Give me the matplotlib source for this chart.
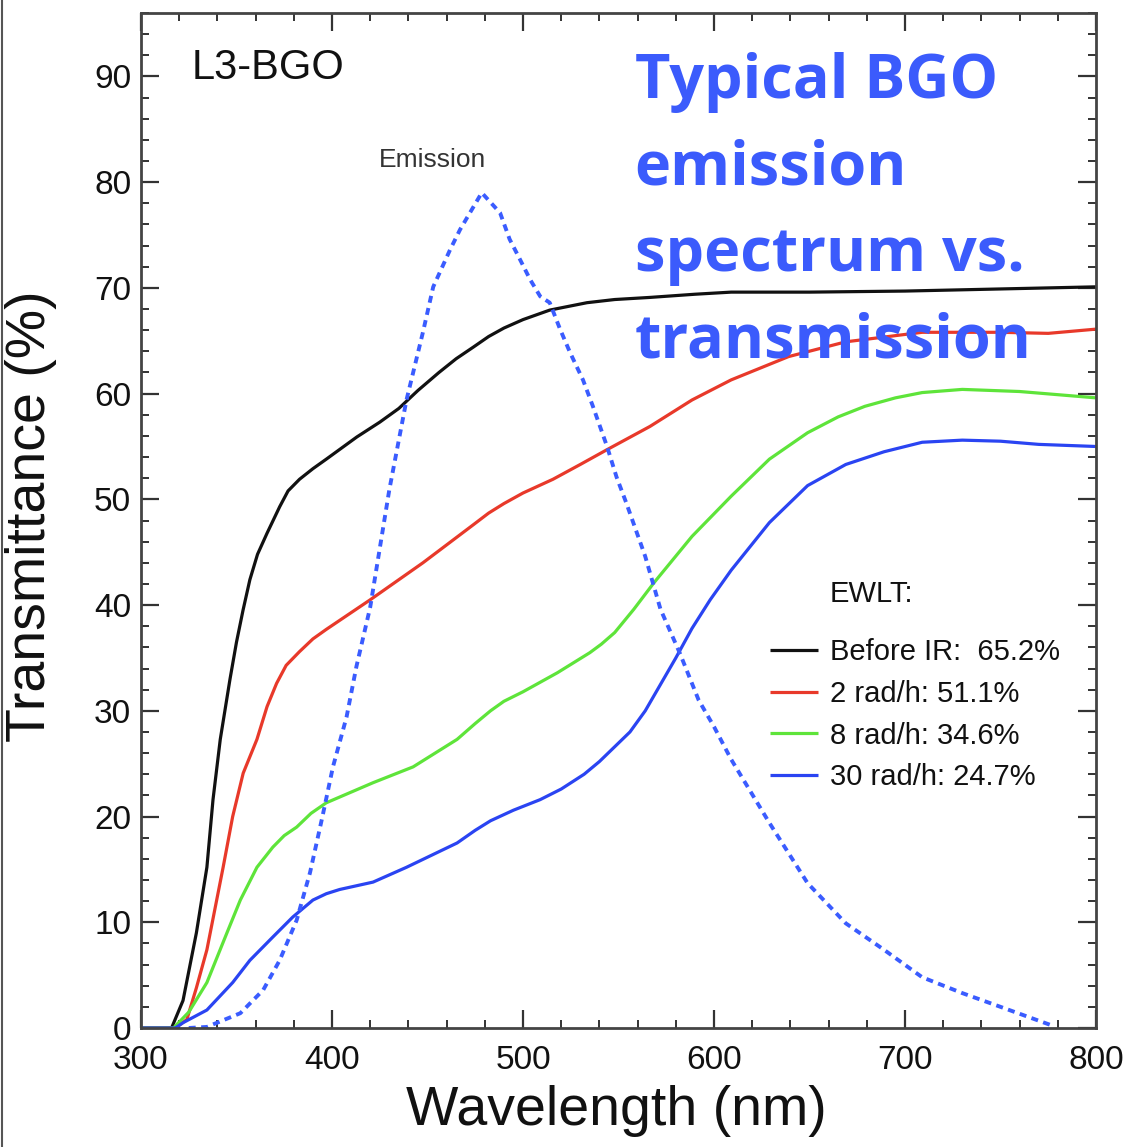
import matplotlib
matplotlib.use("Agg")
import matplotlib.pyplot as plt
from matplotlib.lines import Line2D
from matplotlib.ticker import MultipleLocator

# ---------------- data ----------------
wl_before = [300, 316, 322, 329, 334.5, 337.7, 341.5, 346.6, 350, 353.4, 357, 361, 366, 372.6,
             377, 383, 390, 397, 413, 425, 435, 445, 456, 465, 474, 482, 490, 500, 514, 533.5,
             548, 566.5, 590, 609, 650, 700, 750, 800]
t_before = [0, 0, 2.6, 9.0, 15.2, 21.6, 27.3, 33.0, 36.5, 39.5, 42.4, 44.8, 46.8, 49.3,
            50.8, 51.9, 52.9, 53.8, 55.9, 57.3, 58.6, 60.3, 62.0, 63.3, 64.4, 65.4, 66.2, 67.0, 67.9, 68.6,
            68.9, 69.1, 69.4, 69.6, 69.6, 69.7, 69.9, 70.1]

wl_2rad = [300, 318, 324, 329, 334.5, 343, 348, 353.5, 360.7, 366, 371, 376, 383, 390, 397, 420,
           447.6, 474, 482, 490, 500, 515.7, 530, 544, 566.5, 588.5, 609, 639, 669, 709, 750, 775, 800]
t_2rad = [0, 0, 0.8, 3.8, 7.4, 15.2, 20.0, 24.1, 27.3, 30.4, 32.6, 34.3, 35.6, 36.8, 37.7, 40.5,
          44.0, 47.6, 48.7, 49.6, 50.6, 51.9, 53.3, 54.7, 56.9, 59.4, 61.3, 63.5, 64.9, 65.8, 65.8, 65.7, 66.1]

wl_8rad = [300, 317, 325, 334.5, 345, 352, 360.7, 369, 375, 381.5, 389, 397, 421.5, 442.5, 465.5,
           475, 483, 490, 500, 518, 535, 541, 548, 558, 568.5, 588.5, 609, 629, 649, 665, 679, 695,
           709, 730, 760, 800]
t_8rad = [0, 0, 1.5, 4.3, 9.0, 12.1, 15.2, 17.1, 18.2, 19.0, 20.3, 21.3, 23.2, 24.7, 27.3,
          28.8, 30.0, 30.9, 31.8, 33.6, 35.5, 36.3, 37.4, 39.6, 42.1, 46.5, 50.3, 53.8, 56.3, 57.8, 58.8, 59.6,
          60.1, 60.4, 60.2, 59.6]

wl_30rad = [300, 318, 322, 334.5, 348, 357, 369, 379.5, 390, 397, 404, 421.5, 439, 465.5, 475, 483,
            495, 509, 520, 532, 540, 548, 556, 564, 572, 580, 588.5, 598, 609, 629, 649, 669, 689,
            709, 730, 750, 770, 800]
t_30rad = [0, 0, 0.5, 1.7, 4.3, 6.4, 8.6, 10.5, 12.1, 12.7, 13.1, 13.8, 15.2, 17.5, 18.7, 19.6,
           20.6, 21.6, 22.6, 24.0, 25.2, 26.6, 28.0, 30.0, 32.5, 35.0, 37.8, 40.5, 43.3, 47.8, 51.3, 53.3, 54.5,
           55.4, 55.6, 55.5, 55.2, 55.0]

wl_emis = [325, 334.5, 352, 364, 372.6, 381.5, 388.5, 395, 400.5, 407.6, 412.8, 420, 430,
           439, 447.6, 453, 461.8, 467, 478.4, 488, 493, 498.4, 503.7, 509, 514, 519.4, 524.6,
           531.4, 536.6, 544, 549, 554, 564, 572, 582, 592, 600, 609, 629, 649, 669, 689, 709,
           730, 750, 776]
t_emis = [0, 0.1, 1.4, 3.6, 6.4, 10.2, 14.7, 20.0, 24.7, 29.4, 34.2, 39.8, 50.9,
          59.4, 65.8, 70.1, 73.6, 75.5, 79.0, 77.1, 74.6, 72.7, 70.8, 69.2, 68.6, 66.1, 63.9,
          61.3, 58.8, 55.0, 52.1, 49.7, 44.6, 39.6, 35.5, 31.0, 28.5, 25.4, 19.4, 13.7, 9.9, 7.4, 4.8,
          3.3, 2.0, 0.3]

series_labels = ["Before IR:  65.2%", "2 rad/h: 51.1%", "8 rad/h: 34.6%", "30 rad/h: 24.7%"]
series_colors = ["#111111", "#e8392a", "#5ee43a", "#2a44f2"]
emis_color = "#3a5cff"

# ---------------- figure ----------------
plt.rcParams['font.family'] = ['Liberation Sans', 'DejaVu Sans']
fig = plt.figure(figsize=(11.29, 11.47), dpi=100)
ax = fig.add_axes([141/1129, 1 - 1028/1147, (1096 - 141)/1129, (1028 - 13)/1147])

series = [(wl_before, t_before), (wl_2rad, t_2rad), (wl_8rad, t_8rad), (wl_30rad, t_30rad)]
handles = []
for (x, y), c, lab in zip(series, series_colors, series_labels):
    h, = ax.plot(x, y, color=c, lw=2.3, label=lab, solid_capstyle='butt', solid_joinstyle='round')
    handles.append(h)

ax.plot(wl_emis, t_emis, color=emis_color, lw=2.8, linestyle=(0, (1.8, 1.4)))

ax.set_xlim(300, 800)
ax.set_ylim(0, 96)
ax.xaxis.set_major_locator(MultipleLocator(100))
ax.xaxis.set_minor_locator(MultipleLocator(20))
ax.yaxis.set_major_locator(MultipleLocator(10))
ax.yaxis.set_minor_locator(MultipleLocator(2))
ax.tick_params(which='both', direction='in', top=True, right=True, colors='#333333',
               labelcolor='#111111')
ax.tick_params(which='major', length=13, width=1.6, labelsize=24)
ax.tick_params(which='minor', length=6, width=1.4)
ax.tick_params(axis='x', which='major', pad=12)
ax.tick_params(axis='y', which='major', pad=7)
for s in ax.spines.values():
    s.set_linewidth(2.0)
    s.set_color('#444444')

ax.set_xlabel("Wavelength (nm)", fontsize=40, color='#111111')
ax.set_ylabel("Transmittance (%)", fontsize=40, color='#111111')
ax.xaxis.set_label_coords(0.498, -0.056)
ax.yaxis.set_label_coords(-0.088, 0.504)

ax.text(0.053, 0.966, "L3-BGO", transform=ax.transAxes, fontsize=30, va='top', ha='left',
        color='#111111')
ax.text(0.305, 0.855, "Emission", transform=ax.transAxes, fontsize=19, va='center', ha='center',
        color='#333333')
ax.text(0.517, 0.962, "Typical BGO\nemission\nspectrum vs.\ntransmission", transform=ax.transAxes,
        fontsize=44, fontweight='bold', family=['Open Sans', 'DejaVu Sans'], color='#3b5bfc',
        va='top', ha='left', linespacing=1.555)

ax.text(0.7215, 0.4276, "EWLT:", transform=ax.transAxes, fontsize=21, va='center', ha='left',
        color='#111111')
leg = ax.legend(handles=handles, loc='upper left', bbox_to_anchor=(0.6586, 0.384),
                frameon=False, fontsize=21, handlelength=1.64, handletextpad=0.41,
                labelspacing=0.47, borderpad=0, borderaxespad=0)
for t in leg.get_texts():
    t.set_color('#111111')

fig.add_artist(Line2D([2/1129, 2/1129], [0, 1], transform=fig.transFigure, color='#555555', lw=1.5))

fig.savefig("out.png", dpi=100)
